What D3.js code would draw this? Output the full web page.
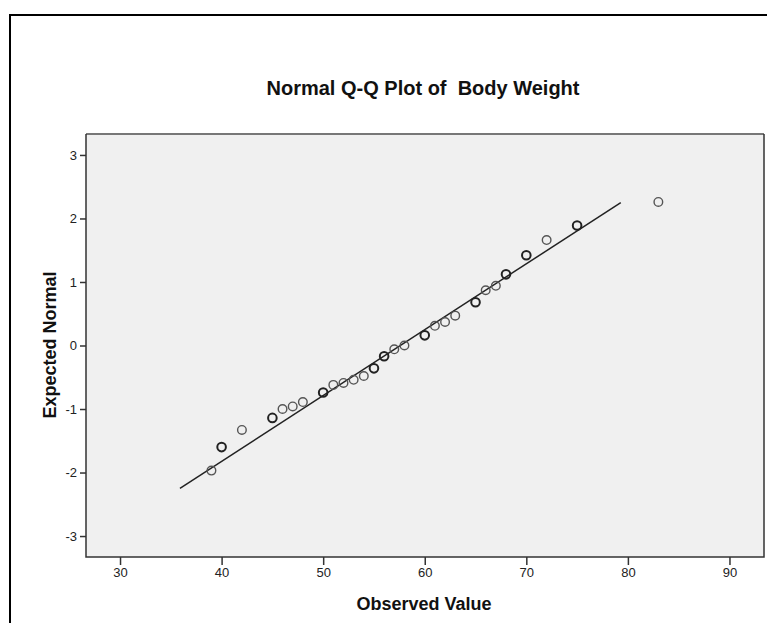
<!DOCTYPE html>
<html>
<head>
<meta charset="utf-8">
<script src="https://cdn.jsdelivr.net/npm/d3@7"></script>
<style>
  body { margin: 0; background: #fff; }
  svg { display: block; font-family: Arial, "Liberation Sans", sans-serif; }
  .axis text { font-size: 13px; fill: #222; }
  .axis path { display: none; }
  .axis line { stroke: #333; stroke-width: 1.5; }
</style>
</head>
<body>
<svg width="767" height="623"></svg>
<script>
// observed body weights, expected normal scores, marker weight (overlapping points)
var observed = [39, 40, 42, 45, 46, 47, 48, 50, 51, 52, 53, 54, 55, 56, 57, 58,
                60, 61, 62, 63, 65, 66, 67, 68, 70, 72, 75, 83];
var expected = [-1.97, -1.60, -1.33, -1.14, -1.00, -0.96, -0.89, -0.74, -0.62, -0.59, -0.54, -0.48, -0.36, -0.17, -0.06, 0.00,
                0.16, 0.31, 0.37, 0.47, 0.68, 0.87, 0.94, 1.12, 1.42, 1.66, 1.89, 2.26];
var counts   = [1, 2, 1, 2, 1, 1, 1, 2, 1, 1, 1, 1, 2, 2, 1, 1,
                2, 1, 1, 1, 2, 1, 1, 2, 2, 1, 2, 1];
var refLineX = [35.9, 79.3];
var refLineY = [-2.25, 2.25];
var xTicks = [30, 40, 50, 60, 70, 80, 90];
var yTicks = [-3, -2, -1, 0, 1, 2, 3];

var svg = d3.select("svg");

// outer chart frame (cut off at the right and bottom)
svg.append("path")
    .attr("d", "M10,640 V15 H780")
    .attr("fill", "none")
    .attr("stroke", "#000")
    .attr("stroke-width", 2);

svg.append("text")
    .attr("x", 423)
    .attr("y", 95)
    .attr("text-anchor", "middle")
    .attr("font-size", "20px")
    .attr("font-weight", "bold")
    .attr("fill", "#111")
    .style("white-space", "pre")
    .text("Normal Q-Q Plot of  Body Weight");

var plot = {left: 86, top: 134, right: 764, bottom: 557};

var x = d3.scaleLinear().domain([26.65, 93.4]).range([plot.left, plot.right]),
    y = d3.scaleLinear().domain([-3.33, 3.33]).range([plot.bottom, plot.top]);

svg.append("rect")
    .attr("x", plot.left)
    .attr("y", plot.top)
    .attr("width", plot.right - plot.left)
    .attr("height", plot.bottom - plot.top)
    .attr("fill", "#f0f0f0");

svg.append("line")
    .attr("x1", plot.left).attr("x2", plot.right)
    .attr("y1", plot.top).attr("y2", plot.top)
    .attr("stroke", "#777").attr("stroke-width", 2);

svg.append("path")
    .attr("d", "M" + plot.left + "," + plot.top + "V" + plot.bottom + "H" + plot.right + "V" + plot.top)
    .attr("fill", "none")
    .attr("stroke", "#333")
    .attr("stroke-width", 1.5);

var fmt = function(d){return d < 0 ? "-" + Math.abs(d) : String(d);};

svg.append("g")
    .attr("class", "axis")
    .attr("transform", "translate(0," + plot.bottom + ")")
    .call(d3.axisBottom(x).tickValues(xTicks).tickFormat(fmt).tickSize(8).tickPadding(3));

svg.append("g")
    .attr("class", "axis")
    .attr("transform", "translate(" + plot.left + ",0)")
    .call(d3.axisLeft(y).tickValues(yTicks).tickFormat(fmt).tickSize(6).tickPadding(3));

svg.append("line")
    .attr("x1", x(refLineX[0])).attr("y1", y(refLineY[0]))
    .attr("x2", x(refLineX[1])).attr("y2", y(refLineY[1]))
    .attr("stroke", "#222")
    .attr("stroke-width", 1.5);

svg.selectAll(".pt").data(observed).enter().append("circle")
    .attr("class", "pt")
    .attr("cx", function(d){return x(d);})
    .attr("cy", function(d, i){return y(expected[i]);})
    .attr("r", 4.3)
    .attr("fill", "none")
    .attr("stroke", function(d, i){return counts[i] > 1 ? "#222" : "#555";})
    .attr("stroke-width", function(d, i){return counts[i] > 1 ? 2 : 1.4;});

svg.append("text")
    .attr("x", (plot.left + plot.right) / 2 - 1)
    .attr("y", 610)
    .attr("text-anchor", "middle")
    .attr("font-size", "18px")
    .attr("font-weight", "bold")
    .attr("fill", "#111")
    .text("Observed Value");

svg.append("text")
    .attr("transform", "translate(56,345) rotate(-90)")
    .attr("text-anchor", "middle")
    .attr("font-size", "18px")
    .attr("font-weight", "bold")
    .attr("fill", "#111")
    .text("Expected Normal");
</script>
</body>
</html>
